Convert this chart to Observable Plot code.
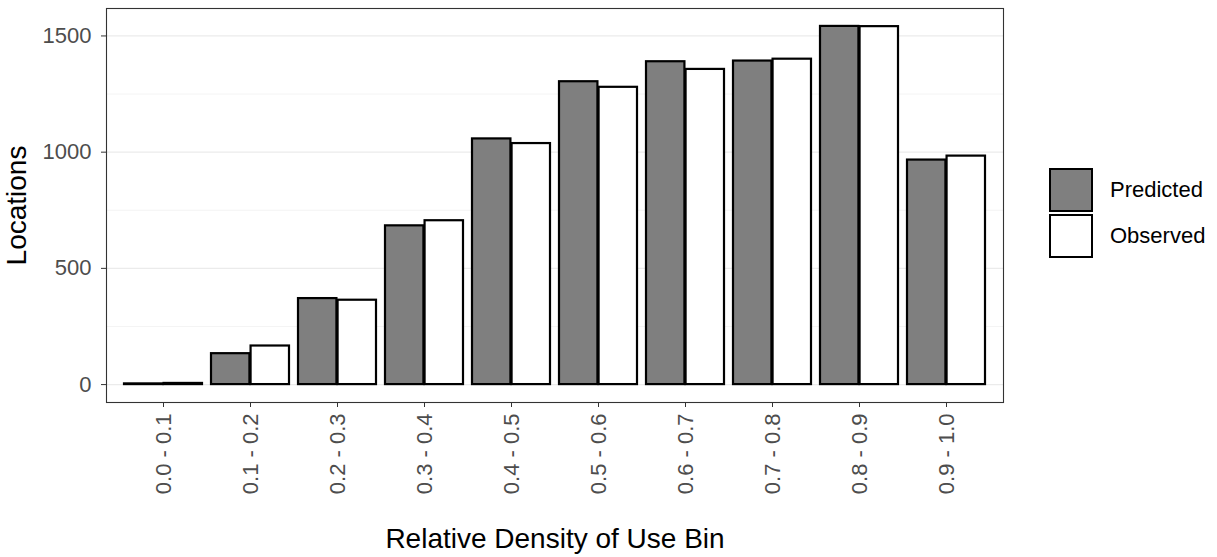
<!DOCTYPE html>
<html>
<head>
<meta charset="utf-8">
<script src="https://cdn.jsdelivr.net/npm/d3@7"></script>
<script src="https://cdn.jsdelivr.net/npm/@observablehq/plot@0.6"></script>
<style>
  html, body { margin: 0; padding: 0; background: #fff; }
  #wrap { position: relative; width: 1217px; height: 557px; font-family: "Liberation Sans", Arial, sans-serif; }
  #wrap svg { position: absolute; left: 0; top: 0; }
  .key { position: absolute; box-sizing: border-box; width: 44px; height: 44px; border: 2.2px solid #000; }
  .lab { position: absolute; font-size: 22px; color: #000; line-height: 1; white-space: nowrap; }
</style>
</head>
<body>
<div id="wrap"></div>
<script>
const bins = ["0.0 - 0.1", "0.1 - 0.2", "0.2 - 0.3", "0.3 - 0.4", "0.4 - 0.5",
              "0.5 - 0.6", "0.6 - 0.7", "0.7 - 0.8", "0.8 - 0.9", "0.9 - 1.0"];
const predicted = [3, 133, 370, 683, 1057, 1303, 1389, 1392, 1541, 966];
const observed  = [5, 166, 363, 705, 1037, 1279, 1356, 1400, 1540, 983];
const seriesNames = ["Predicted", "Observed"];
const seriesFills = ["#7f7f7f", "#ffffff"];
const yTicks = [0, 500, 1000, 1500];
const yMinor = [250, 750, 1250];

const predRows = bins.map((b, i) => ({bin: b, series: seriesNames[0], value: predicted[i]}));
const obsRows  = bins.map((b, i) => ({bin: b, series: seriesNames[1], value: observed[i]}));

const W = 1217, H = 557;
const mL = 106, mR = W - 1003, mT = 8, mB = H - 402;
const step = (W - mL - mR) / 10.2;
const half = 0.45 * step;
const maxV = Math.max(...predicted, ...observed);
const pad = 0.05 * maxV;

const chart = Plot.plot({
  width: W, height: H,
  marginLeft: mL, marginRight: mR, marginTop: mT, marginBottom: mB,
  style: {fontFamily: "'Liberation Sans', Arial, sans-serif", background: "transparent", overflow: "visible"},
  x: {domain: bins, paddingInner: 0.1, paddingOuter: 0.15, label: null},
  y: {domain: [-pad, maxV + pad], label: null},
  marks: [
    Plot.gridY(yMinor, {stroke: "#ebebeb", strokeOpacity: 1, strokeWidth: 0.6}),
    Plot.gridY(yTicks, {stroke: "#ebebeb", strokeOpacity: 1, strokeWidth: 1.2}),
    Plot.barY(predRows, {x: "bin", y1: 0, y2: "value", fill: seriesFills[0], stroke: "#000", strokeWidth: 2.2, insetRight: half}),
    Plot.barY(obsRows,  {x: "bin", y1: 0, y2: "value", fill: seriesFills[1], stroke: "#000", strokeWidth: 2.2, insetLeft: half}),
    Plot.frame({stroke: "#333333", strokeWidth: 1.1}),
    Plot.axisY({ticks: yTicks, tickFormat: d3.format("d"), tickSize: 5, tickPadding: 10, fontSize: 22,
                stroke: "#333333", fill: "#4d4d4d",
                label: "Locations", labelArrow: "none", labelAnchor: "center", labelOffset: 100}),
    Plot.axisX({tickSize: 5, tickPadding: 6, tickRotate: -90, fontSize: 22, stroke: "#333333", fill: "#4d4d4d",
                label: "Relative Density of Use Bin", labelArrow: "none", labelAnchor: "center", labelOffset: 145})
  ]
});

const wrap = document.getElementById("wrap");
wrap.appendChild(chart);

// legend
seriesNames.forEach((name, i) => {
  const k = document.createElement("div");
  k.className = "key";
  k.style.left = "1049px";
  k.style.top = (167.5 + i * 46) + "px";
  k.style.background = seriesFills[i];
  wrap.appendChild(k);
  const t = document.createElement("div");
  t.className = "lab";
  t.textContent = name;
  t.style.left = "1110px";
  t.style.top = (179 + i * 46) + "px";
  wrap.appendChild(t);
});

// title font sizes
chart.querySelectorAll("g[aria-label='y-axis label'] text, g[aria-label='x-axis label'] text").forEach(t => {
  t.setAttribute("font-size", 28);
  t.style.fill = "#000";
});
</script>
</body>
</html>
